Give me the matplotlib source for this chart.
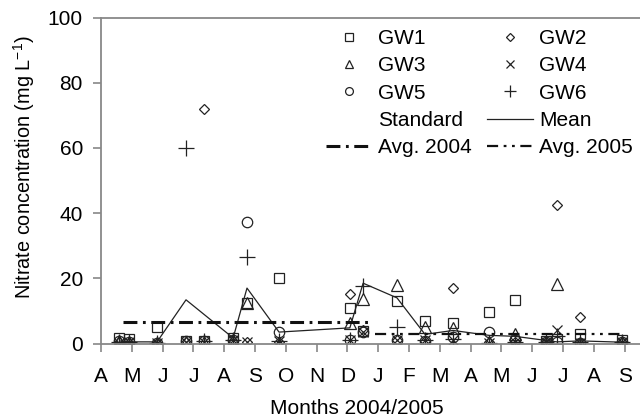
import numpy as np
import matplotlib.pyplot as plt
from matplotlib.lines import Line2D

plt.rcParams['font.family'] = ['Liberation Sans', 'DejaVu Sans']
plt.rcParams['lines.scale_dashes'] = False

# sampling dates, in months since April 2004
dates = [0.6, 0.9, 1.82, 2.76, 3.34, 4.29, 4.74, 5.78, 8.08, 8.51, 9.61,
         10.52, 11.43, 12.60, 13.44, 14.45, 14.8, 15.55, 16.92]

gw1 = [1.8, 1.5, 5.0, 0.8, 0.8, 1.8, 12.3, 20.0, 11.0, 3.8, 13.0, 7.0, 6.2, 9.7, 13.4, 0.8, 1.5, 3.0, 1.0]
gw2 = [0.5, 0.3, 0.3, 0.5, 72.0, 0.8, 0.4, 0.6, 15.2, 4.0, 1.0, 0.8, 17.0, 0.5, 0.5, 0.5, 42.6, 8.2, 0.5]
gw3 = [0.8, 0.5, 0.3, 0.5, 0.5, 1.0, 12.3, 0.0, 6.3, 13.5, 18.0, 5.0, 4.8, 0.5, 3.0, 0.5, 18.2, 0.3, 0.5]
gw4 = [0.3, 0.5, 0.3, 0.5, 0.5, 1.0, 0.5, 0.8, 1.2, 3.5, 1.0, 1.0, 1.0, 0.3, 0.5, 0.5, 4.2, 0.3, 0.5]
gw5 = [0.8, 0.5, 0.3, 0.8, 0.8, 1.0, 37.4, 3.5, 1.0, 3.5, 1.2, 0.8, 2.0, 3.5, 1.0, 0.5, 0.5, 0.3, 0.5]
gw6 = [0.5, 0.5, 0.3, 60.0, 0.8, 1.2, 26.6, 0.8, 1.0, 17.7, 5.0, 1.0, 1.5, 0.3, 0.5, 0.5, 2.3, 0.5, 0.5]

mean_dates = [0.6, 0.9, 1.82, 2.76, 4.29, 4.74, 5.78, 8.08, 8.51, 9.61, 10.52,
              11.43, 12.60, 13.44, 14.8, 15.55, 16.92]
mean_vals = [0.8, 0.5, 0.5, 13.4, 1.7, 17.0, 3.5, 4.8, 18.5, 14.0, 2.8,
             4.0, 2.5, 2.2, 0.5, 0.8, 0.4]

avg2004_x = [0.7, 8.8]
avg2004_y = [6.6, 6.6]
avg2005_x = [8.9, 16.9]
avg2005_y = [2.9, 2.9]

month_labels = list('AMJJASONDJFMAMJJAS')

fig = plt.figure(figsize=(6.4, 4.17), dpi=100)
ax = fig.add_axes([101/640, 1 - 343.5/417, 1 - 101/640, (343.5 - 17.5)/417])

ec = '#222222'
ax.plot(dates, gw1, ls='none', marker='s', ms=7, mfc='none', mec=ec, mew=0.9, label='GW1')
ax.plot(dates, gw2, ls='none', marker='D', ms=5.5, mfc='none', mec=ec, mew=0.9, label='GW2')
ax.plot(dates, gw3, ls='none', marker='^', ms=8, mfc='none', mec=ec, mew=0.9, label='GW3')
ax.plot(dates, gw4, ls='none', marker='x', ms=7, mfc='none', mec=ec, mew=0.9, label='GW4')
ax.plot(dates, gw5, ls='none', marker='o', ms=7.5, mfc='none', mec=ec, mew=0.9, label='GW5')
ax.plot(dates, gw6, ls='none', marker='+', ms=11, mfc='none', mec=ec, mew=0.9, label='GW6')
standard = Line2D([], [], color='none', label='Standard')
ax.plot(mean_dates, mean_vals, color=ec, lw=0.9, label='Mean')
ax.plot(avg2004_x, avg2004_y, color='#111111', lw=2.2, dashes=(10, 4, 2, 4), label='Avg. 2004')
ax.plot(avg2005_x, avg2005_y, color='#111111', lw=1.6, dashes=(8, 4, 2, 4, 2, 4), label='Avg. 2005')

ax.set_xlim(0, 17.5)
ax.set_ylim(0, 100)
ax.set_xticks(range(18))
ax.set_xticklabels(month_labels)
ax.set_yticks([0, 20, 40, 60, 80, 100])
ax.tick_params(axis='both', direction='out', length=6, width=1.2, color='#888888',
               labelsize=15)
ax.tick_params(axis='x', pad=11)
ax.tick_params(axis='y', pad=7)
for s in ['left', 'bottom', 'top']:
    ax.spines[s].set_color('#888888')
    ax.spines[s].set_linewidth(1.3)
ax.spines['right'].set_visible(False)

ax.set_xlabel('Months 2004/2005', fontsize=15, labelpad=9, x=0.475)
ax.set_ylabel('Nitrate concentration (mg L$^{\\mathregular{-1}}$)', fontsize=14.3,
              labelpad=8, y=0.54)

h, l = ax.get_legend_handles_labels()
order = ['GW1', 'GW3', 'GW5', 'Standard', 'Avg. 2004', 'GW2', 'GW4', 'GW6', 'Mean', 'Avg. 2005']
hd = dict(zip(l, h))
hd['Standard'] = standard
fig.legend([hd[k] for k in order], order, ncol=2, frameon=False, fontsize=15,
           loc='upper left', bbox_to_anchor=(326/640, 1 - 29/417), borderpad=0,
           borderaxespad=0, handlelength=2.2, handletextpad=0.3, columnspacing=0.72,
           labelspacing=0.4, markerscale=0.75)

fig.savefig('out.png', dpi=100)
